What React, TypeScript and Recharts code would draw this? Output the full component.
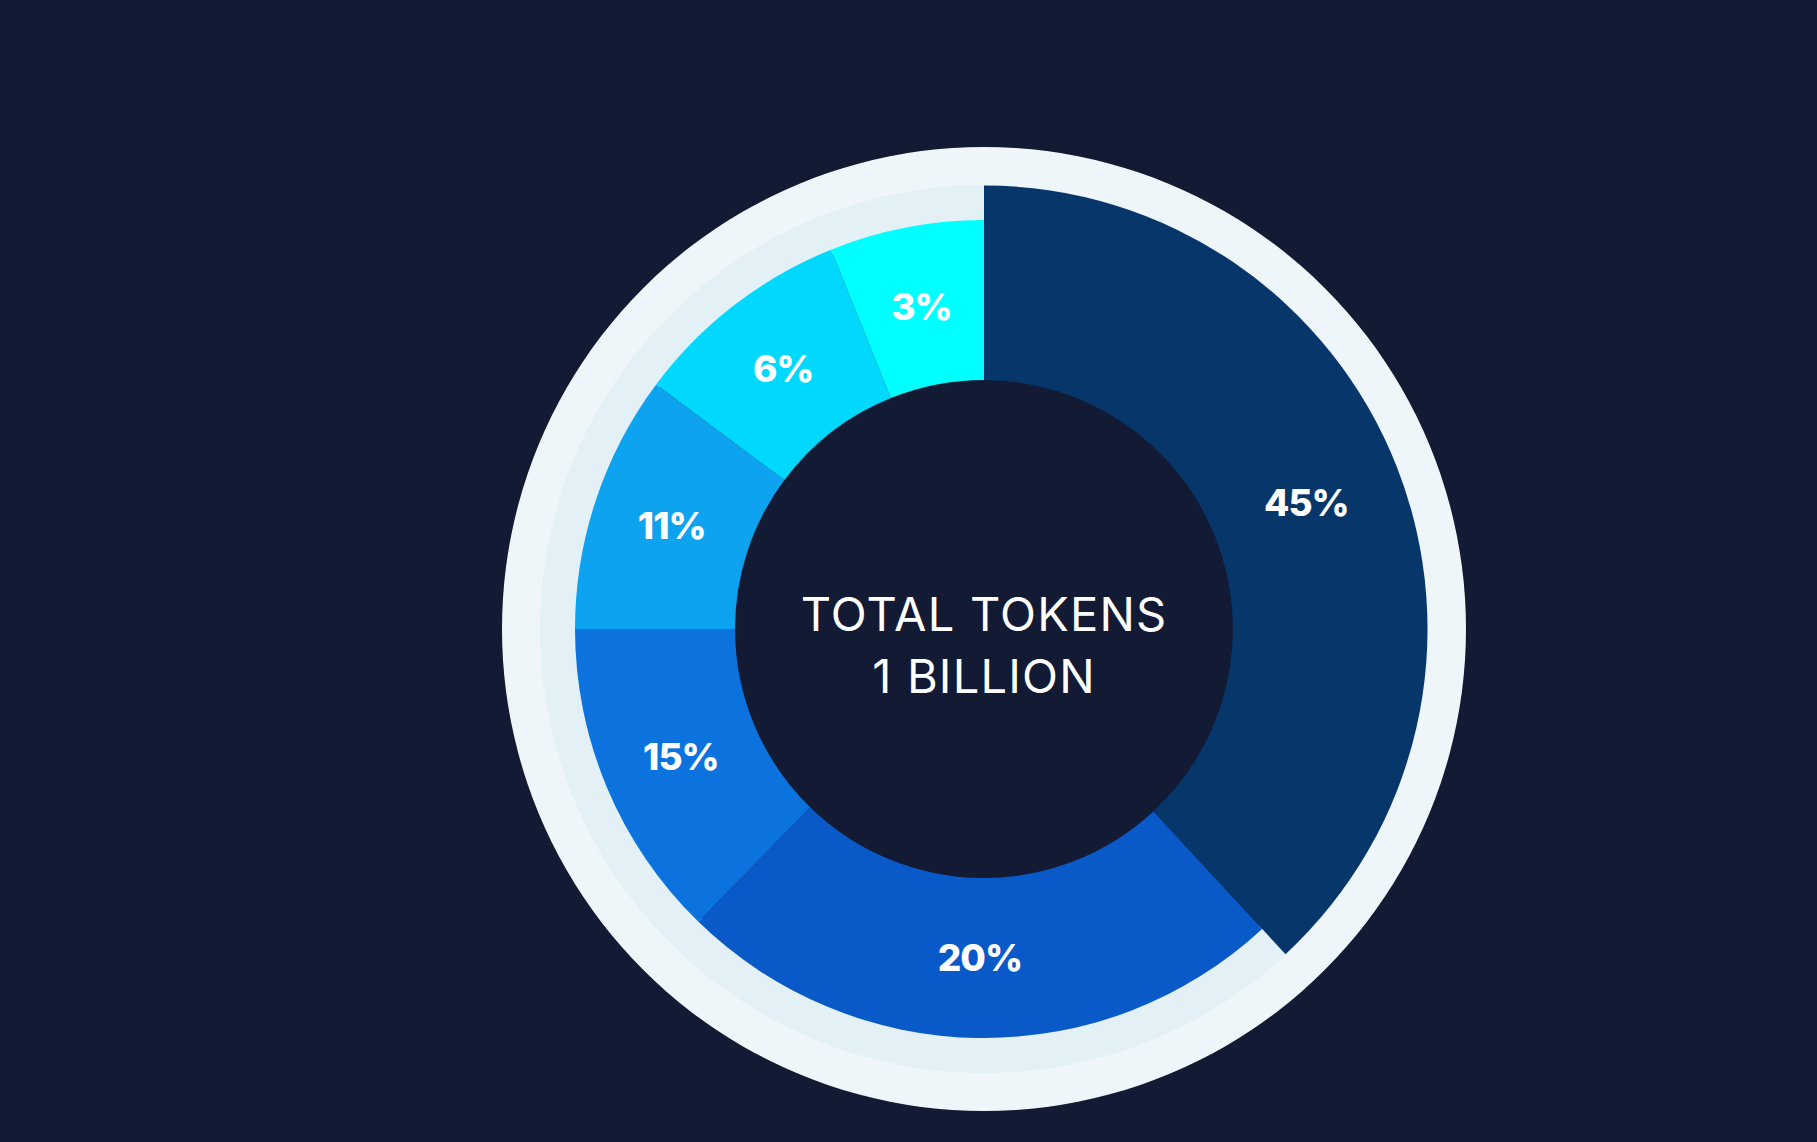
import React from 'react';
import { PieChart, Pie, Cell } from 'recharts';

const labels = ['45%', '20%', '15%', '11%', '6%', '3%'];
const shares = [38.1, 24.2, 12.7, 10.2, 8.7, 6.1];
const colors = ['#06366a', '#0959c8', '#0c73de', '#0ea3ef', '#00d8fe', '#00ffff'];
const centerLines = ['TOTAL TOKENS', '1 BILLION'];

const W = 1817;
const H = 1142;
const CX = 984;
const CY = 629;
const BG = '#131a33';
const RING = '#eef6fa';
const TRACK = '#e3f0f6';

const data = labels.map((label, i) => ({ label, value: shares[i] }));
const ring = [{ label: 'ring', value: 1 }];

const RADIAN = Math.PI / 180;

const renderLabel = (onlyFirst: boolean) => (props: any) => {
  const { cx, cy, midAngle, innerRadius, outerRadius, index } = props;
  if (onlyFirst ? index !== 0 : index === 0) return null;
  const r = (innerRadius + outerRadius) / 2;
  const x = cx + r * Math.cos(-midAngle * RADIAN);
  const y = cy + r * Math.sin(-midAngle * RADIAN);
  return (
    <text
      x={x}
      y={y}
      fill="#ffffff"
      textAnchor="middle"
      dominantBaseline="central"
      fontFamily="Inter, sans-serif"
      fontWeight={800}
      fontSize={37}
      letterSpacing={-1}
    >
      {labels[index]}
    </text>
  );
};

export default function App() {
  return (
    <div style={{ position: 'absolute', left: 0, top: 0, width: W, height: H, background: BG }}>
      <PieChart width={W} height={H} margin={{ top: 0, right: 0, bottom: 0, left: 0 }}>
        {/* outer pale ring */}
        <Pie
          data={ring}
          dataKey="value"
          cx={CX}
          cy={CY}
          innerRadius={442}
          outerRadius={482}
          startAngle={90}
          endAngle={-270}
          stroke="none"
          fill={RING}
          isAnimationActive={false}
        />
        {/* track behind the smaller slices */}
        <Pie
          data={ring}
          dataKey="value"
          cx={CX}
          cy={CY}
          innerRadius={404}
          outerRadius={444}
          startAngle={90}
          endAngle={-270}
          stroke="none"
          fill={TRACK}
          isAnimationActive={false}
        />
        {/* raised first slice */}
        <Pie
          data={data}
          dataKey="value"
          cx={CX}
          cy={CY}
          innerRadius={249}
          outerRadius={443.5}
          startAngle={90}
          endAngle={-270}
          stroke="none"
          labelLine={false}
          label={renderLabel(true)}
          isAnimationActive={false}
        >
          {data.map((d, i) => (
            <Cell key={d.label} fill={i === 0 ? colors[0] : 'none'} />
          ))}
        </Pie>
        <Pie
          data={data}
          dataKey="value"
          cx={CX}
          cy={CY}
          innerRadius={249}
          outerRadius={409}
          startAngle={90}
          endAngle={-270}
          stroke="none"
          labelLine={false}
          label={renderLabel(false)}
          isAnimationActive={false}
        >
          {data.map((d, i) => (
            <Cell key={d.label} fill={colors[i]} />
          ))}
        </Pie>
        <text
          x={CX}
          y={CY}
          fill="#ffffff"
          textAnchor="middle"
          fontFamily="Inter, sans-serif"
          fontWeight={400}
          fontSize={47}
          letterSpacing={1.2}
        >
          <tspan x={CX} y={CY + 2}>{centerLines[0]}</tspan>
          <tspan x={CX} y={CY + 64}>{centerLines[1]}</tspan>
        </text>
      </PieChart>
    </div>
  );
}
